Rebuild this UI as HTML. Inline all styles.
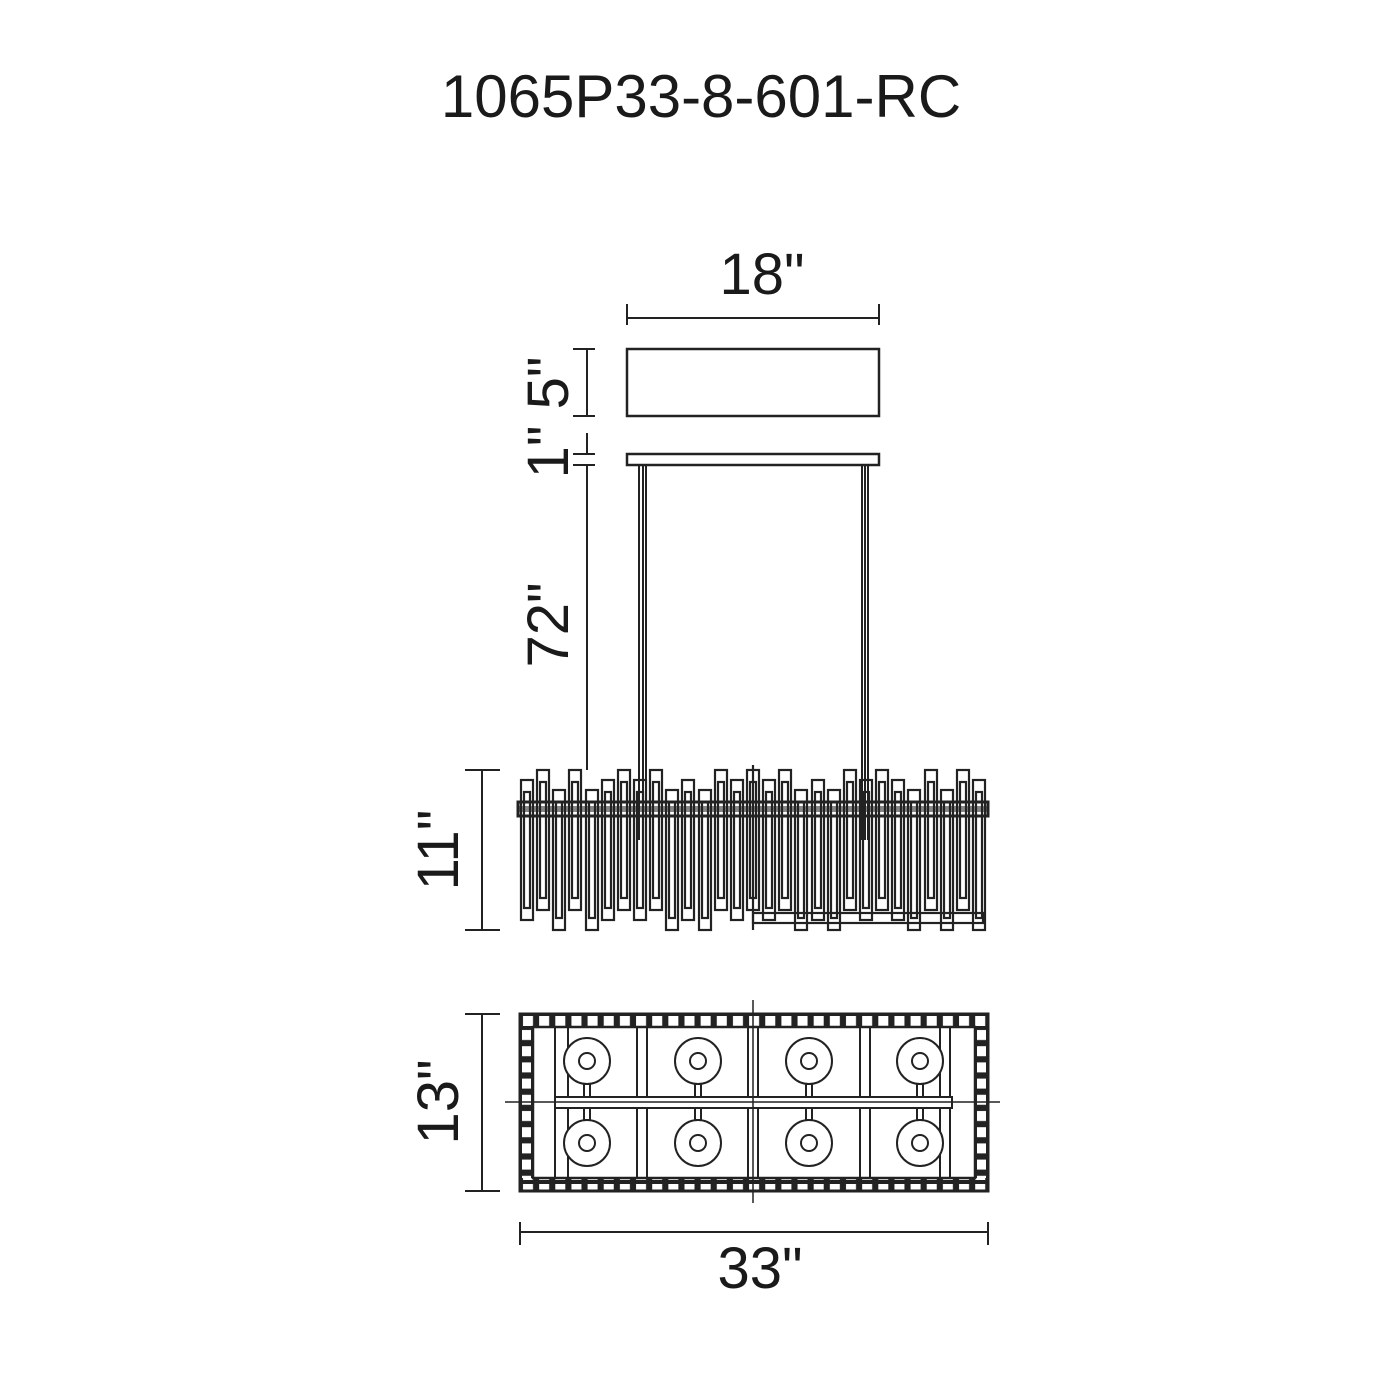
<!DOCTYPE html>
<html><head><meta charset="utf-8"><style>
html,body{margin:0;padding:0;background:#fff;}
svg{display:block;}
text{font-family:"Liberation Sans",Arial,sans-serif;fill:#1a1a1a;}
</style></head><body>
<svg width="1400" height="1400" viewBox="0 0 1400 1400" xmlns="http://www.w3.org/2000/svg">
<defs>
<pattern id="ph" x="520" y="1014" width="16.15" height="14" patternUnits="userSpaceOnUse">
<rect width="16.15" height="14" fill="#222"/><rect x="3" y="2" width="10" height="10" fill="#fff"/>
</pattern>
<pattern id="pv" x="520" y="1027" width="13" height="16.2" patternUnits="userSpaceOnUse">
<rect width="13" height="16.2" fill="#222"/><rect x="2" y="3" width="9" height="10" fill="#fff"/>
</pattern>
</defs>
<rect width="1400" height="1400" fill="#fff"/>
<text x="701" y="117" font-size="60" text-anchor="middle">1065P33-8-601-RC</text>

<g stroke="#222" stroke-width="2" fill="none">
<line x1="627" y1="304" x2="627" y2="325"/><line x1="879" y1="304" x2="879" y2="325"/>
<line x1="627" y1="318" x2="879" y2="318"/>
<rect x="627" y="349" width="252" height="67" stroke-width="2.5"/>
<rect x="627" y="454" width="252" height="11" stroke-width="2.5"/>
<line x1="639" y1="465" x2="639" y2="840"/><line x1="643" y1="465" x2="643" y2="840"/><line x1="646" y1="465" x2="646" y2="840"/>
<line x1="862" y1="465" x2="862" y2="840"/><line x1="865" y1="465" x2="865" y2="840"/><line x1="868" y1="465" x2="868" y2="840"/>
<line x1="573" y1="349" x2="595" y2="349"/><line x1="573" y1="416" x2="595" y2="416"/>
<line x1="587" y1="349" x2="587" y2="416"/>
<line x1="573" y1="454" x2="595" y2="454"/><line x1="573" y1="465" x2="595" y2="465"/>
<line x1="587" y1="433" x2="587" y2="454"/>
<line x1="587" y1="465" x2="587" y2="770"/>
<line x1="465" y1="770" x2="500" y2="770"/><line x1="465" y1="930" x2="500" y2="930"/>
<line x1="482" y1="770" x2="482" y2="930"/>
<line x1="465" y1="1014" x2="500" y2="1014"/><line x1="465" y1="1191" x2="500" y2="1191"/>
<line x1="482" y1="1014" x2="482" y2="1191"/>
<line x1="520" y1="1222" x2="520" y2="1245"/><line x1="988" y1="1222" x2="988" y2="1245"/>
<line x1="520" y1="1232" x2="988" y2="1232"/>
</g>

<text x="762" y="294" font-size="58" text-anchor="middle">18"</text>
<text x="760" y="1288" font-size="58" text-anchor="middle">33"</text>
<text transform="translate(568,383) rotate(-90)" font-size="58" text-anchor="middle">5"</text>
<text transform="translate(568,452) rotate(-90)" font-size="58" text-anchor="middle">1"</text>
<text transform="translate(568,625) rotate(-90)" font-size="58" text-anchor="middle">72"</text>
<text transform="translate(458,850) rotate(-90)" font-size="58" text-anchor="middle">11"</text>
<text transform="translate(458,1102) rotate(-90)" font-size="58" text-anchor="middle">13"</text>

<g stroke="#222" stroke-width="2.2" fill="none">
<rect x="521" y="780" width="12" height="140"/><rect x="524" y="792" width="6" height="116"/>
<rect x="537" y="770" width="12" height="140"/><rect x="540" y="782" width="6" height="116"/>
<rect x="553" y="790" width="12" height="140"/><rect x="556" y="802" width="6" height="116"/>
<rect x="569" y="770" width="12" height="140"/><rect x="572" y="782" width="6" height="116"/>
<rect x="586" y="790" width="12" height="140"/><rect x="589" y="802" width="6" height="116"/>
<rect x="602" y="780" width="12" height="140"/><rect x="605" y="792" width="6" height="116"/>
<rect x="618" y="770" width="12" height="140"/><rect x="621" y="782" width="6" height="116"/>
<rect x="634" y="780" width="12" height="140"/><rect x="637" y="792" width="6" height="116"/>
<rect x="650" y="770" width="12" height="140"/><rect x="653" y="782" width="6" height="116"/>
<rect x="666" y="790" width="12" height="140"/><rect x="669" y="802" width="6" height="116"/>
<rect x="682" y="780" width="12" height="140"/><rect x="685" y="792" width="6" height="116"/>
<rect x="699" y="790" width="12" height="140"/><rect x="702" y="802" width="6" height="116"/>
<rect x="715" y="770" width="12" height="140"/><rect x="718" y="782" width="6" height="116"/>
<rect x="731" y="780" width="12" height="140"/><rect x="734" y="792" width="6" height="116"/>
<rect x="747" y="770" width="12" height="140"/><rect x="750" y="782" width="6" height="116"/>
<rect x="763" y="780" width="12" height="140"/><rect x="766" y="792" width="6" height="116"/>
<rect x="779" y="770" width="12" height="140"/><rect x="782" y="782" width="6" height="116"/>
<rect x="795" y="790" width="12" height="140"/><rect x="798" y="802" width="6" height="116"/>
<rect x="812" y="780" width="12" height="140"/><rect x="815" y="792" width="6" height="116"/>
<rect x="828" y="790" width="12" height="140"/><rect x="831" y="802" width="6" height="116"/>
<rect x="844" y="770" width="12" height="140"/><rect x="847" y="782" width="6" height="116"/>
<rect x="860" y="780" width="12" height="140"/><rect x="863" y="792" width="6" height="116"/>
<rect x="876" y="770" width="12" height="140"/><rect x="879" y="782" width="6" height="116"/>
<rect x="892" y="780" width="12" height="140"/><rect x="895" y="792" width="6" height="116"/>
<rect x="908" y="790" width="12" height="140"/><rect x="911" y="802" width="6" height="116"/>
<rect x="925" y="770" width="12" height="140"/><rect x="928" y="782" width="6" height="116"/>
<rect x="941" y="790" width="12" height="140"/><rect x="944" y="802" width="6" height="116"/>
<rect x="957" y="770" width="12" height="140"/><rect x="960" y="782" width="6" height="116"/>
<rect x="973" y="780" width="12" height="150"/><rect x="976" y="792" width="6" height="126"/>
<rect x="518" y="802" width="470" height="14" stroke-width="3"/>
<line x1="753" y1="765" x2="753" y2="930"/>
<rect x="753" y="913" width="230" height="10"/>
</g>
<rect x="518" y="806" width="470" height="6" fill="#222" opacity="0.55"/>

<rect x="520" y="1014" width="468" height="13" fill="url(#ph)"/>
<rect x="520" y="1178" width="468" height="13" fill="url(#ph)"/>
<rect x="520" y="1027" width="13" height="151" fill="url(#pv)"/>
<rect x="975" y="1027" width="13" height="151" fill="url(#pv)"/>
<g stroke="#222" stroke-width="2" fill="none">
<rect x="520" y="1014" width="468" height="177" stroke-width="3"/>
<rect x="533" y="1027" width="442" height="151" stroke-width="2.5"/>
<line x1="555" y1="1027" x2="555" y2="1178"/><line x1="568" y1="1027" x2="568" y2="1178"/>
<line x1="637" y1="1027" x2="637" y2="1178"/><line x1="647" y1="1027" x2="647" y2="1178"/>
<line x1="748" y1="1027" x2="748" y2="1178"/><line x1="758" y1="1027" x2="758" y2="1178"/>
<line x1="860" y1="1027" x2="860" y2="1178"/><line x1="870" y1="1027" x2="870" y2="1178"/>
<line x1="940" y1="1027" x2="940" y2="1178"/><line x1="950" y1="1027" x2="950" y2="1178"/>
<rect x="555" y="1097" width="397" height="11" fill="#fff"/>
<line x1="505" y1="1102" x2="1000" y2="1102" stroke-width="1.5"/>
<line x1="753" y1="1000" x2="753" y2="1203" stroke-width="1.5"/>
<circle cx="587" cy="1061" r="23" fill="#fff"/><circle cx="587" cy="1061" r="8"/>
<circle cx="698" cy="1061" r="23" fill="#fff"/><circle cx="698" cy="1061" r="8"/>
<circle cx="809" cy="1061" r="23" fill="#fff"/><circle cx="809" cy="1061" r="8"/>
<circle cx="920" cy="1061" r="23" fill="#fff"/><circle cx="920" cy="1061" r="8"/>
<circle cx="587" cy="1143" r="23" fill="#fff"/><circle cx="587" cy="1143" r="8"/>
<circle cx="698" cy="1143" r="23" fill="#fff"/><circle cx="698" cy="1143" r="8"/>
<circle cx="809" cy="1143" r="23" fill="#fff"/><circle cx="809" cy="1143" r="8"/>
<circle cx="920" cy="1143" r="23" fill="#fff"/><circle cx="920" cy="1143" r="8"/>
<rect x="584" y="1084" width="6" height="13"/><rect x="695" y="1084" width="6" height="13"/>
<rect x="806" y="1084" width="6" height="13"/><rect x="917" y="1084" width="6" height="13"/>
<rect x="584" y="1108" width="6" height="12"/><rect x="695" y="1108" width="6" height="12"/>
<rect x="806" y="1108" width="6" height="12"/><rect x="917" y="1108" width="6" height="12"/>
</g>
</svg>
</body></html>
